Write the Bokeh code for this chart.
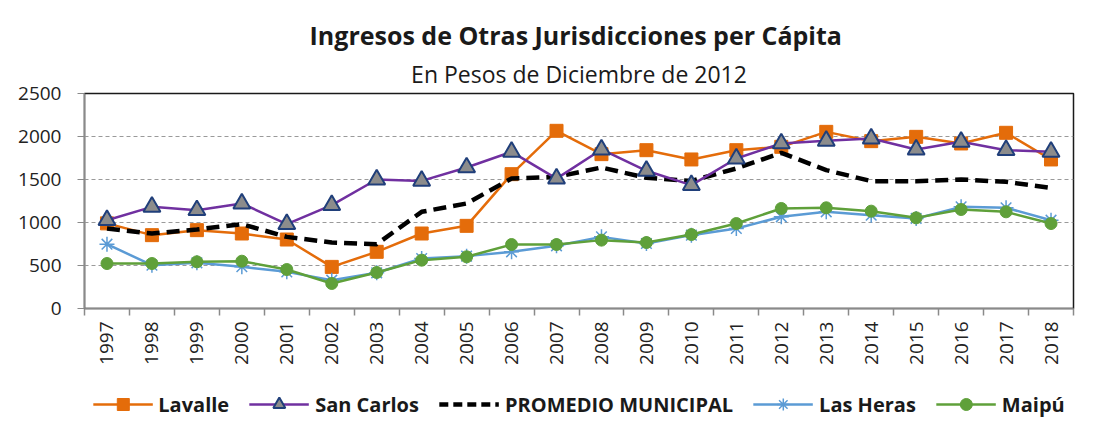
import math
from bokeh.plotting import figure
from bokeh.layouts import column
from bokeh.models import FixedTicker, Title, Legend, LegendItem, Range1d
from bokeh.embed import file_html
from bokeh.resources import INLINE

years = list(range(1997, 2019))
lavalle = [990, 853, 911, 872, 802, 484, 659, 872, 961, 1562, 2066, 1795, 1841, 1733,
           1841, 1880, 2054, 1946, 1996, 1919, 2043, 1733]
san_carlos = [1027, 1182, 1143, 1221, 981, 1202, 1500, 1484, 1640, 1822, 1510, 1849,
              1601, 1434, 1744, 1919, 1950, 1977, 1849, 1938, 1841, 1822]
promedio = [930, 872, 919, 981, 833, 767, 748, 1124, 1221, 1512, 1531, 1640, 1519,
            1484, 1628, 1810, 1609, 1481, 1481, 1500, 1473, 1403]
las_heras = [748, 504, 531, 485, 426, 329, 415, 581, 609, 659, 729, 833, 756, 853,
             930, 1066, 1124, 1085, 1047, 1182, 1171, 1027]
maipu = [523, 523, 543, 550, 453, 291, 419, 562, 601, 744, 744, 795, 767, 860, 988,
         1163, 1171, 1132, 1054, 1151, 1124, 988]
y_ticks = [0, 500, 1000, 1500, 2000, 2500]
series_names = ["Lavalle", "San Carlos", "PROMEDIO MUNICIPAL", "Las Heras", "Maipú"]

title_text = "Ingresos de Otras Jurisdicciones  per Cápita"
subtitle_text = "En Pesos de Diciembre de 2012"

FONT = "Open Sans"
C_LAV = "#E46C0A"
C_SC = "#7030A0"
C_LH = "#5B9BD5"
C_MP = "#5FA03A"


def draw_series(fig, dash="13 7"):
    r = {}
    r["lav"] = (fig.line(years, lavalle, line_color=C_LAV, line_width=2.5),
                fig.scatter(years, lavalle, marker="square", size=13,
                            fill_color=C_LAV, line_color=C_LAV))
    r["lh"] = (fig.line(years, las_heras, line_color=C_LH, line_width=2.5),
               fig.scatter(years, las_heras, marker="asterisk", size=15,
                           line_color=C_LH, line_width=1.5))
    r["mp"] = (fig.line(years, maipu, line_color=C_MP, line_width=2.5),
               fig.scatter(years, maipu, marker="circle", size=12,
                           fill_color=C_MP, line_color=C_MP))
    r["pm"] = (fig.line(years, promedio, line_color="black", line_width=4.5,
                        line_dash=dash),)
    r["sc"] = (fig.line(years, san_carlos, line_color=C_SC, line_width=2.5),
               fig.scatter(years, san_carlos, marker="triangle", size=17,
                           fill_color="#8C8C8C", line_color="#203F7A", line_width=2))
    return r


p = figure(width=1101, height=383, output_backend="svg", toolbar_location=None,
           x_range=Range1d(years[0] - 0.5, years[-1] + 0.5),
           y_range=Range1d(y_ticks[0], y_ticks[-1]),
           min_border_left=84, min_border_right=28, min_border_top=93,
           min_border_bottom=75, title=None)

p.outline_line_color = "#1a1a1a"
p.outline_line_width = 1.5
p.background_fill_color = "white"
p.border_fill_color = "white"

# Grid
p.xgrid.visible = False
p.ygrid.ticker = FixedTicker(ticks=y_ticks)
p.ygrid.grid_line_color = "#9a9a9a"
p.ygrid.grid_line_dash = "4 3"
p.ygrid.grid_line_width = 1

# Y axis
p.yaxis.ticker = FixedTicker(ticks=y_ticks)
p.yaxis.axis_line_color = "#8a8a8a"
p.yaxis.axis_line_width = 1.5
p.yaxis.major_tick_line_color = "#8a8a8a"
p.yaxis.major_tick_out = 7
p.yaxis.major_tick_in = 0
p.yaxis.minor_tick_line_color = None
p.yaxis.major_label_text_font = FONT
p.yaxis.major_label_text_font_size = "19px"
p.yaxis.major_label_text_color = "#222222"
p.yaxis.major_label_standoff = 16

# X axis
p.xaxis.ticker = FixedTicker(ticks=years,
                             minor_ticks=[y - 0.5 for y in years] + [years[-1] + 0.5])
p.xaxis.major_label_overrides = {y: str(y) for y in years}
p.xaxis.major_label_orientation = math.pi / 2
p.xaxis.axis_line_color = "#8a8a8a"
p.xaxis.axis_line_width = 1.5
p.xaxis.major_tick_out = 0
p.xaxis.major_tick_in = 0
p.xaxis.minor_tick_out = 7
p.xaxis.minor_tick_in = 0
p.xaxis.minor_tick_line_color = "#8a8a8a"
p.xaxis.minor_tick_line_width = 1.5
p.xaxis.major_label_text_font = FONT
p.xaxis.major_label_text_font_size = "19px"
p.xaxis.major_label_text_color = "#222222"
p.xaxis.major_label_standoff = 6

draw_series(p)

sub = Title(text=subtitle_text, align="center", text_font=FONT,
            text_font_size="23px", text_font_style="normal", text_color="#1a1a1a",
            standoff=8)
p.add_layout(sub, "above")
main = Title(text=title_text, align="center", text_font=FONT,
             text_font_size="25px", text_font_style="bold", text_color="#1a1a1a",
             standoff=0)
p.add_layout(main, "above")

# Legend strip below the chart (series drawn out of view, only legend shows)
lg = figure(width=1101, height=36, output_backend="svg", toolbar_location=None,
            x_range=Range1d(0, 1), y_range=Range1d(-2, -1),
            min_border_left=0, min_border_right=0, min_border_top=0,
            min_border_bottom=0, title=None)
lg.axis.visible = False
lg.grid.visible = False
lg.outline_line_color = None
lg.background_fill_color = "white"
lg.border_fill_color = "white"
rr = draw_series(lg, dash="9 5")

legend = Legend(items=[
    LegendItem(label=series_names[0], renderers=list(rr["lav"])),
    LegendItem(label=series_names[1], renderers=list(rr["sc"])),
    LegendItem(label=series_names[2], renderers=list(rr["pm"])),
    LegendItem(label=series_names[3], renderers=list(rr["lh"])),
    LegendItem(label=series_names[4], renderers=list(rr["mp"])),
], orientation="horizontal", location="bottom_center")
legend.border_line_color = None
legend.background_fill_alpha = 0
legend.label_text_font = FONT
legend.label_text_font_size = "20px"
legend.label_text_font_style = "bold"
legend.label_text_color = "#1a1a1a"
legend.glyph_width = 60
legend.glyph_height = 30
legend.label_standoff = 6
legend.spacing = 20
legend.margin = 0
legend.padding = 1
lg.add_layout(legend, "center")

layout = column(p, lg, spacing=0)
open("out.html", "w").write(file_html(layout, INLINE))
